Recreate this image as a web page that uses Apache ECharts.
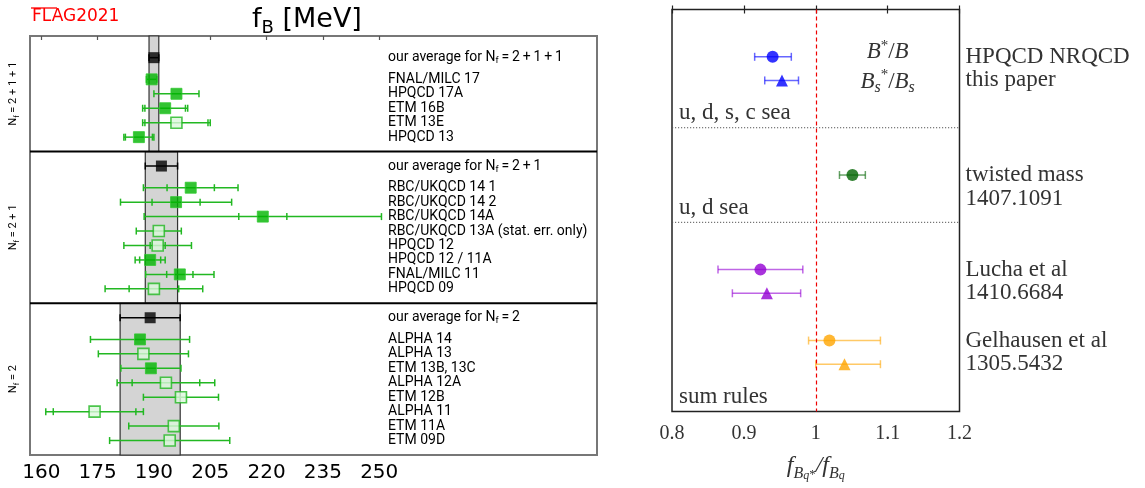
<!DOCTYPE html>
<html>
<head>
<meta charset="utf-8">
<script src="https://cdn.jsdelivr.net/npm/echarts@6/dist/echarts.min.js"></script>
<style>
html, body { margin: 0; background: #fff; }
#chart { width: 1145px; height: 488px; }
</style>
</head>
<body>
<div id="chart"></div>
<script>
// ---------- left panel: f_B [MeV], FLAG 2021 ----------
var sectionNames = ['2+1+1', '2+1', '2'];
var averages = [190.0, 192.0, 189.0];
var averageErrors = [1.3, 4.3, 8.0];

var names211 = ['FNAL/MILC 17', 'HPQCD 17A', 'ETM 16B', 'ETM 13E', 'HPQCD 13'];
var values211 = [189.4, 196.0, 193.0, 196.0, 186.0];
var stat211 = [1.4, 6.0, 5.4, 8.4, 3.6];
var total211 = [1.4, 6.0, 6.0, 9.0, 4.0];
var filled211 = [1, 1, 1, 0, 1];

var names21 = ['RBC/UKQCD 14 1', 'RBC/UKQCD 14 2', 'RBC/UKQCD 14A', 'RBC/UKQCD 13A (stat. err. only)',
               'HPQCD 12', 'HPQCD 12 / 11A', 'FNAL/MILC 11', 'HPQCD 09'];
var values21 = [199.8, 195.9, 219.0, 191.3, 191.0, 189.0, 196.9, 190.0];
var stat21 = [6.3, 6.4, 6.4, 6.0, 2.0, 2.8, 3.5, 6.6];
var total21 = [12.6, 14.8, 31.6, 6.0, 9.0, 4.0, 9.1, 13.0];
var filled21 = [1, 1, 1, 0, 0, 1, 1, 0];

var names2 = ['ALPHA 14', 'ALPHA 13', 'ETM 13B, 13C', 'ALPHA 12A', 'ETM 12B', 'ALPHA 11', 'ETM 11A', 'ETM 09D'];
var values2 = [186.3, 187.2, 189.2, 193.2, 197.2, 174.2, 195.3, 194.2];
var stat2 = [13.2, 12.0, 8.0, 9.0, 10.0, 11.0, 12.0, 16.0];
var total2 = [13.2, 12.0, 8.0, 13.0, 10.0, 13.0, 12.0, 16.0];
var filled2 = [1, 0, 1, 0, 0, 0, 0, 0];

var xTicks = [160, 175, 190, 205, 220, 235, 250];

// ---------- right panel: f_B*/f_B ratios ----------
var refNames = [['HPQCD NRQCD', 'this paper'], ['twisted mass', '1407.1091'],
                ['Lucha et al', '1410.6684'], ['Gelhausen et al', '1305.5432']];
var seaLabels = ['u, d, s, c sea', 'u, d sea', 'sum rules'];
var seaBounds = [5, 9, 17];
var bRows = [2, 7, 11, 14];
var bValues = [0.940, 1.051, 0.923, 1.019];
var bErrLow = [0.025, 0.018, 0.059, 0.029];
var bErrHigh = [0.026, 0.018, 0.059, 0.071];
var bsRows = [3, null, 12, 15];
var bsValues = [0.953, null, 0.932, 1.040];
var bsErrLow = [0.024, null, 0.048, 0.040];
var bsErrHigh = [0.023, null, 0.047, 0.050];

var refColors = ['#0000ff', '#006400', '#9400d3', '#ffa500'];

// ---------- build left rows ----------
var groups = [
  {names: names211, values: values211, stat: stat211, total: total211, filled: filled211},
  {names: names21, values: values21, stat: stat21, total: total21, filled: filled21},
  {names: names2, values: values2, stat: stat2, total: total2, filled: filled2}
];
var bands = [], dividers = [], secMids = [], errLeft = [];
var filledPts = [], openPts = [], avgPts = [], labelRows = [], labelTexts = [];
var start = 0.5;
groups.forEach(function (g, s) {
  var top = s === 0 ? 0 : start;
  var end = start + g.names.length + 2.5;
  var avgRow = start + 1;
  bands.push([averages[s] - averageErrors[s], averages[s] + averageErrors[s], top, end]);
  if (s < groups.length - 1) dividers.push([0, end]);
  secMids.push([0, (top + end) / 2, s]);
  avgPts.push([averages[s], avgRow]);
  errLeft.push([averages[s], avgRow, averageErrors[s], averageErrors[s], 1]);
  labelTexts.push('our average for N{s|f}\u2009=\u2009' + sectionNames[s].split('+').join('\u2009+\u2009'));
  labelRows.push([0, avgRow, labelTexts.length - 1]);
  g.names.forEach(function (n, i) {
    var row = start + 2.5 + i;
    errLeft.push([g.values[i], row, g.stat[i], g.total[i], 0]);
    (g.filled[i] ? filledPts : openPts).push([g.values[i], row]);
    labelTexts.push(n);
    labelRows.push([0, row, labelTexts.length - 1]);
  });
  start = end;
});

// ---------- build right rows ----------
var errRight = [], circlePts = [], trianglePts = [], refRows = [], refTexts = [];
bValues.forEach(function (v, i) {
  errRight.push([v, bRows[i], bErrLow[i], bErrHigh[i], i]);
  circlePts.push({value: [v, bRows[i]], itemStyle: {color: refColors[i]}});
  if (bsValues[i] != null) {
    errRight.push([bsValues[i], bsRows[i], bsErrLow[i], bsErrHigh[i], i]);
    trianglePts.push({value: [bsValues[i], bsRows[i]], itemStyle: {color: refColors[i]}});
  }
  refTexts.push(refNames[i][0], refNames[i][1]);
  refRows.push([0, bRows[i], refTexts.length - 2], [0, bRows[i] + 1, refTexts.length - 1]);
});
var seaRows = seaBounds.map(function (b, i) { return [0, b, i]; });

// ---------- render helpers ----------
function vline(x, y, h, style) {
  return {type: 'line', shape: {x1: x, y1: y - h, x2: x, y2: y + h}, style: Object.assign({}, style)};
}

function renderErrLeft(params, api) {
  var x = api.value(0), y = api.value(1), st = api.value(2), tot = api.value(3);
  var c = api.coord([x, y]);
  var l = api.coord([x - tot, y])[0], r = api.coord([x + tot, y])[0];
  var style = {stroke: api.value(4) ? '#000' : '#22b822', lineWidth: 1.5};
  var kids = [
    {type: 'line', shape: {x1: l, y1: c[1], x2: r, y2: c[1]}, style: Object.assign({}, style)},
    vline(l, c[1], 3.5, style), vline(r, c[1], 3.5, style)
  ];
  if (tot - st > 0.3) {
    kids.push(vline(api.coord([x - st, y])[0], c[1], 3.5, style));
    kids.push(vline(api.coord([x + st, y])[0], c[1], 3.5, style));
  }
  return {type: 'group', children: kids};
}

function renderErrRight(params, api) {
  var x = api.value(0), y = api.value(1);
  var c = api.coord([x, y]);
  var l = api.coord([x - api.value(2), y])[0], r = api.coord([x + api.value(3), y])[0];
  var style = {stroke: refColors[api.value(4)], lineWidth: 1.5, opacity: 0.6};
  return {type: 'group', children: [
    {type: 'line', shape: {x1: l, y1: c[1], x2: r, y2: c[1]}, style: Object.assign({}, style)},
    vline(l, c[1], 4, style), vline(r, c[1], 4, style)
  ]};
}

var sansText = {fill: '#000', fontSize: 14, fontFamily: 'Roboto', align: 'left', verticalAlign: 'middle',
  textAlign: 'left', textVerticalAlign: 'middle', lineHeight: 16,
  rich: {s: {fontSize: 9, fontFamily: 'Roboto', lineHeight: 10, verticalAlign: 'bottom'}}};
var serifText = {fill: '#333', fontSize: 23, fontFamily: 'Liberation Serif', align: 'left', verticalAlign: 'middle',
  textAlign: 'left', textVerticalAlign: 'middle'};

var chart = echarts.init(document.getElementById('chart'));

var option = {
  animation: false,
  title: [
    {text: 'FLAG2021', left: 27, top: 3, textStyle: {color: '#ff0000', fontSize: 17, fontWeight: 'normal', fontFamily: 'DejaVu Sans'}},
    {text: 'f{s|B} [MeV]', left: 247, top: -2, textStyle: {color: '#000', fontSize: 27, fontWeight: 'normal',
      fontFamily: 'DejaVu Sans', lineHeight: 34,
      rich: {s: {fontSize: 18, fontFamily: 'DejaVu Sans', lineHeight: 22, verticalAlign: 'bottom'}}}}
  ],
  graphic: [
    {type: 'line', shape: {x1: 31, y1: 8, x2: 57, y2: 8}, style: {stroke: '#ff0000', lineWidth: 1.3}}
  ],
  grid: [
    {left: 30, top: 36, width: 567, height: 419, show: true, borderColor: '#777', borderWidth: 2},
    {left: 672, top: 9.5, width: 287.5, height: 402, show: true, borderColor: '#222', borderWidth: 1.5}
  ],
  xAxis: [
    {gridIndex: 0, type: 'value', min: 157, max: 308,
      axisLine: {show: false}, splitLine: {show: false},
      axisTick: {show: true, customValues: xTicks, length: 4, lineStyle: {color: '#555', width: 1.2}},
      axisLabel: {customValues: xTicks, fontSize: 20, color: '#000', fontFamily: 'DejaVu Sans', margin: 8}},
    {gridIndex: 1, type: 'value', min: 0.8, max: 1.2, interval: 0.1,
      axisLine: {show: false}, splitLine: {show: false},
      axisTick: {inside: true, length: 4, lineStyle: {color: '#222', width: 1.2}},
      axisLabel: {fontSize: 20, color: '#333', fontFamily: 'Liberation Serif', margin: 12},
      name: '{f|f}{s|B}{ss|q}{sp|*}{f|/}{f|f}{s|B}{ss|q}', nameLocation: 'middle', nameGap: 38,
      nameTextStyle: {color: '#333', rich: {
        f: {fontSize: 24, fontStyle: 'italic', fontFamily: 'Liberation Serif', color: '#333', lineHeight: 32},
        s: {fontSize: 16, fontStyle: 'italic', fontFamily: 'Liberation Serif', color: '#333', lineHeight: 20, verticalAlign: 'bottom'},
        ss: {fontSize: 12, fontStyle: 'italic', fontFamily: 'Liberation Serif', color: '#333', lineHeight: 8, verticalAlign: 'bottom'},
        sp: {fontSize: 13, fontFamily: 'Liberation Serif', color: '#333', lineHeight: 26, verticalAlign: 'bottom'}
      }}},
    {gridIndex: 1, type: 'value', min: 0.8, max: 1.2, interval: 0.1, position: 'top',
      axisLine: {show: false}, splitLine: {show: false}, axisLabel: {show: false},
      axisTick: {inside: true, length: 4, lineStyle: {color: '#222', width: 1.2}}}
  ],
  yAxis: [
    {gridIndex: 0, type: 'value', inverse: true, min: 0, max: 29, show: false},
    {gridIndex: 1, type: 'value', inverse: true, min: 0, max: 17, show: false}
  ],
  series: [
    // FLAG average bands
    {type: 'custom', xAxisIndex: 0, yAxisIndex: 0, z: 1, data: bands, silent: true,
      renderItem: function (params, api) {
        var a = api.coord([api.value(0), api.value(2)]);
        var b = api.coord([api.value(1), api.value(3)]);
        return {type: 'rect', shape: {x: a[0], y: a[1], width: b[0] - a[0], height: b[1] - a[1]},
          style: {fill: '#d4d4d4', stroke: '#333', lineWidth: 1.2}};
      }},
    // section dividers
    {type: 'custom', xAxisIndex: 0, yAxisIndex: 0, z: 6, data: dividers, silent: true,
      renderItem: function (params, api) {
        var cs = params.coordSys;
        var y = api.coord([157, api.value(1)])[1];
        return {type: 'line', shape: {x1: cs.x, y1: y, x2: cs.x + cs.width, y2: y},
          style: {stroke: '#000', lineWidth: 2}};
      }},
    // section names (rotated)
    {type: 'custom', xAxisIndex: 0, yAxisIndex: 0, z: 6, data: secMids, silent: true, clip: false,
      renderItem: function (params, api) {
        var y = api.coord([157, api.value(1)])[1];
        var txt = 'N{s|f} = ' + sectionNames[api.value(2)].split('+').join(' + ');
        return {type: 'text', x: params.coordSys.x - 17, y: y, rotation: Math.PI / 2,
          style: Object.assign({}, sansText, {text: txt, fontSize: 11,
            align: 'center', textAlign: 'center',
            rich: {s: {fontSize: 7, fontFamily: 'Roboto', lineHeight: 8, verticalAlign: 'bottom'}}})};
      }},
    // left error bars
    {type: 'custom', xAxisIndex: 0, yAxisIndex: 0, z: 3, data: errLeft, silent: true, renderItem: renderErrLeft},
    {type: 'scatter', xAxisIndex: 0, yAxisIndex: 0, z: 4, symbol: 'rect', symbolSize: 11, data: filledPts,
      itemStyle: {color: '#00b400', borderColor: '#30c830', borderWidth: 1}},
    {type: 'scatter', xAxisIndex: 0, yAxisIndex: 0, z: 4, symbol: 'rect', symbolSize: 11, data: openPts,
      itemStyle: {color: '#dcf8dc', borderColor: '#22b822', borderWidth: 1.6}},
    {type: 'scatter', xAxisIndex: 0, yAxisIndex: 0, z: 4, symbol: 'rect', symbolSize: 11, data: avgPts,
      itemStyle: {color: '#000'}},
    // left labels
    {type: 'custom', xAxisIndex: 0, yAxisIndex: 0, z: 6, data: labelRows, silent: true,
      renderItem: function (params, api) {
        var y = api.coord([157, api.value(1)])[1];
        return {type: 'text', x: params.coordSys.x + 358, y: y,
          style: Object.assign({}, sansText, {text: labelTexts[api.value(2)]})};
      }},

    // right panel: red reference line at 1
    {type: 'scatter', xAxisIndex: 1, yAxisIndex: 1, data: [], silent: true,
      markLine: {symbol: 'none', silent: true, label: {show: false},
        lineStyle: {color: '#ee0000', type: [4, 3], width: 1.2}, data: [{xAxis: 1}]}},
    // dotted sea separators
    {type: 'custom', xAxisIndex: 1, yAxisIndex: 1, z: 2, silent: true,
      data: seaRows.slice(0, seaRows.length - 1),
      renderItem: function (params, api) {
        var cs = params.coordSys;
        var y = api.coord([0.8, api.value(1)])[1];
        return {type: 'line', shape: {x1: cs.x, y1: y, x2: cs.x + cs.width, y2: y},
          style: {stroke: '#555', lineWidth: 1, lineDash: [1.2, 1.8]}};
      }},
    // sea labels
    {type: 'custom', xAxisIndex: 1, yAxisIndex: 1, z: 6, data: seaRows, silent: true,
      renderItem: function (params, api) {
        var y = api.coord([0.8, api.value(1)])[1];
        return {type: 'text', x: params.coordSys.x + 7, y: y - 3,
          style: Object.assign({}, serifText, {text: seaLabels[api.value(2)], fontSize: 23,
            verticalAlign: 'bottom', textVerticalAlign: 'bottom'})};
      }},
    // reference names
    {type: 'custom', xAxisIndex: 1, yAxisIndex: 1, z: 6, data: refRows, silent: true, clip: false,
      renderItem: function (params, api) {
        var cs = params.coordSys;
        var y = api.coord([0.8, api.value(1)])[1];
        return {type: 'text', x: cs.x + cs.width + 6, y: y,
          style: Object.assign({}, serifText, {text: refTexts[api.value(2)]})};
      }},
    // ratio legends
    {type: 'custom', xAxisIndex: 1, yAxisIndex: 1, z: 6, data: [[1.1, 1.8, 0], [1.1, 3.05, 1]], silent: true,
      renderItem: function (params, api) {
        var c = api.coord([api.value(0), api.value(1)]);
        var txt = api.value(2) === 0 ? '{i|B}{sp|*}{n|/}{i|B}' : '{i|B}{sb|s}{sp|*}{n|/}{i|B}{sb|s}';
        var it = {fontSize: 23, fontStyle: 'italic', fontFamily: 'Liberation Serif', fill: '#333', lineHeight: 28};
        return {type: 'text', x: c[0], y: c[1],
          style: {text: txt, align: 'center', verticalAlign: 'middle', textAlign: 'center', textVerticalAlign: 'middle',
            rich: {
              i: it,
              n: Object.assign({}, it, {fontStyle: 'normal'}),
              sp: {fontSize: 15, fontFamily: 'Liberation Serif', fill: '#333', lineHeight: 14, verticalAlign: 'top'},
              sb: {fontSize: 16, fontStyle: 'italic', fontFamily: 'Liberation Serif', fill: '#333', lineHeight: 14, verticalAlign: 'bottom'}
            }}};
      }},
    // right error bars and markers
    {type: 'custom', xAxisIndex: 1, yAxisIndex: 1, z: 3, data: errRight, silent: true, renderItem: renderErrRight},
    {type: 'scatter', xAxisIndex: 1, yAxisIndex: 1, z: 4, symbol: 'circle', symbolSize: 12, data: circlePts},
    {type: 'scatter', xAxisIndex: 1, yAxisIndex: 1, z: 4, symbol: 'triangle', symbolSize: 12, data: trianglePts}
  ]
};

chart.setOption(option);
</script>
</body>
</html>
